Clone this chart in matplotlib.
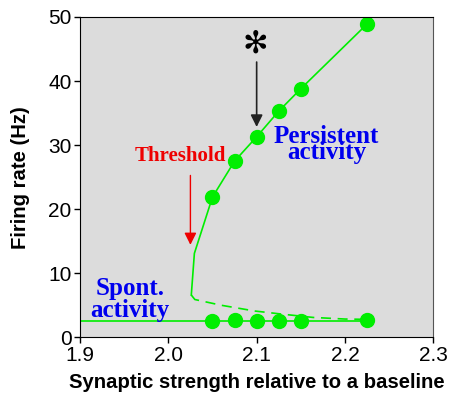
import matplotlib
matplotlib.use("Agg")
import matplotlib.pyplot as plt

# Bistable network: firing rate vs synaptic strength
strength_pts = [2.05, 2.075, 2.1, 2.125, 2.15, 2.225]
persistent_rate = [21.9, 27.5, 31.3, 35.3, 38.8, 48.9]
spont_rate = [2.6, 2.7, 2.5, 2.55, 2.6, 2.7]

# Upper (solid) branch, including the part approaching the fold
upper_x = [2.026, 2.0295, 2.05, 2.075, 2.1, 2.125, 2.15, 2.225]
upper_y = [6.6, 13.1, 21.9, 27.5, 31.3, 35.3, 38.8, 48.9]

# Unstable (dashed) branch from the fold
unstable_x = [2.026, 2.03, 2.06, 2.098, 2.13, 2.164, 2.2, 2.225]
unstable_y = [6.6, 5.9, 5.0, 4.1, 3.6, 3.1, 2.85, 2.8]

# Low-rate (spontaneous) branch
low_x = [1.9, 2.225]
low_y = [2.55, 2.55]

green = "#00ee00"

fig = plt.figure(figsize=(4.53, 4.01), dpi=100)
ax = fig.add_axes([80 / 453, 1 - 337.3 / 401, 353.3 / 453, 320.3 / 401])
ax.set_facecolor("#dcdcdc")

ax.plot(upper_x, upper_y, color=green, lw=1.2)
ax.plot(unstable_x, unstable_y, color=green, lw=1.2, ls=(0, (6, 4)))
ax.plot(low_x, low_y, color=green, lw=1.2)
ax.plot(strength_pts, persistent_rate, "o", color=green, ms=10, mec=green)
ax.plot(strength_pts, spont_rate, "o", color=green, ms=10, mec=green)

ax.set_xlim(1.9, 2.3)
ax.set_ylim(0, 50)
ax.set_xticks([1.9, 2.0, 2.1, 2.2, 2.3])
ax.set_yticks([0, 10, 20, 30, 40, 50])
ax.tick_params(labelsize=15, length=4, width=1, direction="out", pad=2)
for lab in ax.get_xticklabels() + ax.get_yticklabels():
    lab.set_family("Liberation Sans")
ax.spines["right"].set_color("#555555")

ax.set_xlabel("Synaptic strength relative to a baseline",
              family="Liberation Sans", weight="bold", fontsize=14.6)
ax.set_ylabel("Firing rate (Hz)", family="Liberation Sans",
              weight="bold", fontsize=14.6)
ax.xaxis.set_label_coords(0.5, -(383 - 337.3) / 320.3)
ax.xaxis.label.set_verticalalignment("center")
ax.yaxis.set_label_coords((21 - 80) / 353.3, 0.5)
ax.yaxis.label.set_verticalalignment("center")

serif = dict(family="Liberation Serif", weight="bold")
ax.text(2.179, 30.1, "Persistent\nactivity", color="#0000ee", fontsize=18,
        ha="center", va="center", linespacing=0.62, **serif)
ax.text(1.9566, 5.9, "Spont.\nactivity", color="#0000ee", fontsize=18,
        ha="center", va="center", linespacing=0.95, **serif)
ax.text(2.0133, 28.3, "Threshold", color="#ee0000", fontsize=15,
        ha="center", va="center", **serif)

ax.annotate("", xy=(2.025, 14.0), xytext=(2.025, 25.7),
            arrowprops=dict(arrowstyle="-|>", color="#ee0000", lw=1,
                            mutation_scale=18))
ax.annotate("", xy=(2.1, 32.4), xytext=(2.1, 43.4),
            arrowprops=dict(arrowstyle="-|>", color="#222222", lw=1.2,
                            mutation_scale=18))
ax.text(2.098, 45.8, "\u273b", fontsize=22, ha="center", va="center",
        family="DejaVu Sans", weight="bold")

fig.savefig("out.png", dpi=100)
